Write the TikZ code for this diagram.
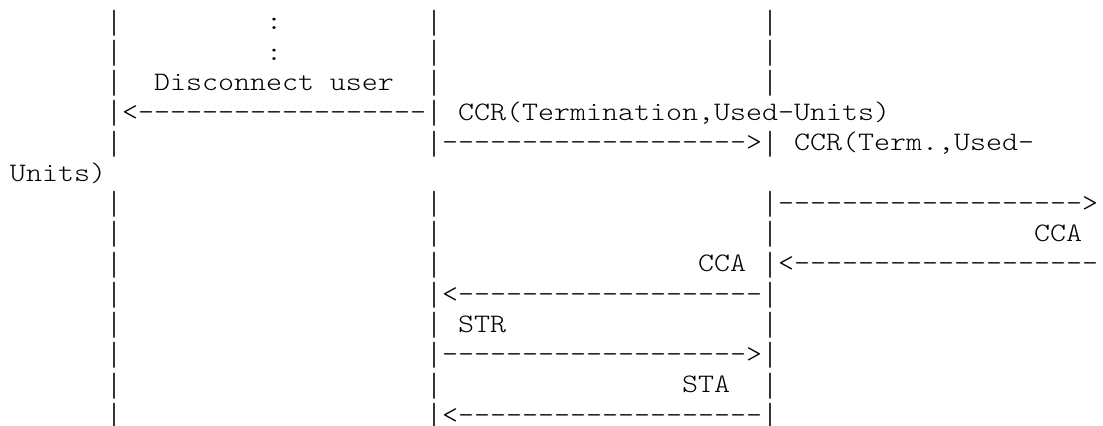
\documentclass[tikz,border=0pt]{standalone}
\usepackage{fontspec}
\usepackage{graphicx}
\setmonofont{lmmonolt10-regular.otf}[FakeStretch=1.143]
\newcommand\vb{\raisebox{-1.6pt}[5pt][0pt]{\scalebox{1}[1.256]{|}}}
\newcommand\asc[3]{\node[txt] (n#2c#1) at ({10+16*#1},{30+30.25*(#2-1)}) {#3};}
\begin{document}
\begin{tikzpicture}[x=0.5pt,y=-0.5pt,txt/.style={anchor=base west,inner sep=0pt,outer sep=0pt,font=\fontsize{13.333}{15}\selectfont\ttfamily,text=black}]
\useasboundingbox (0,0) rectangle (1103,426);
% line 1
\asc{6}{1}{\vb}\asc{16}{1}{:}\asc{26}{1}{\vb}\asc{47}{1}{\vb}
% line 2
\asc{6}{2}{\vb}\asc{16}{2}{:}\asc{26}{2}{\vb}\asc{47}{2}{\vb}
% line 3
\asc{6}{3}{\vb}\asc{9}{3}{Disconnect user}\asc{26}{3}{\vb}\asc{47}{3}{\vb}
% line 4
\asc{6}{4}{\vb<------------------\vb}\asc{28}{4}{CCR(Termination,Used-Units)}
% line 5
\asc{6}{5}{\vb}\asc{26}{5}{\vb------------------->\vb}\asc{49}{5}{CCR(Term.,Used-}
% line 6
\asc{0}{6}{Units)}
% line 7
\asc{6}{7}{\vb}\asc{26}{7}{\vb}\asc{47}{7}{\vb------------------->}
% line 8
\asc{6}{8}{\vb}\asc{26}{8}{\vb}\asc{47}{8}{\vb}\asc{64}{8}{CCA}
% line 9
\asc{6}{9}{\vb}\asc{26}{9}{\vb}\asc{43}{9}{CCA \vb<-------------------}
% line 10
\asc{6}{10}{\vb}\asc{26}{10}{\vb<-------------------\vb}
% line 11
\asc{6}{11}{\vb}\asc{26}{11}{\vb{} STR}\asc{47}{11}{\vb}
% line 12
\asc{6}{12}{\vb}\asc{26}{12}{\vb------------------->\vb}
% line 13
\asc{6}{13}{\vb}\asc{26}{13}{\vb}\asc{42}{13}{STA}\asc{47}{13}{\vb}
% line 14
\asc{6}{14}{\vb}\asc{26}{14}{\vb<-------------------\vb}
\end{tikzpicture}
\end{document}
